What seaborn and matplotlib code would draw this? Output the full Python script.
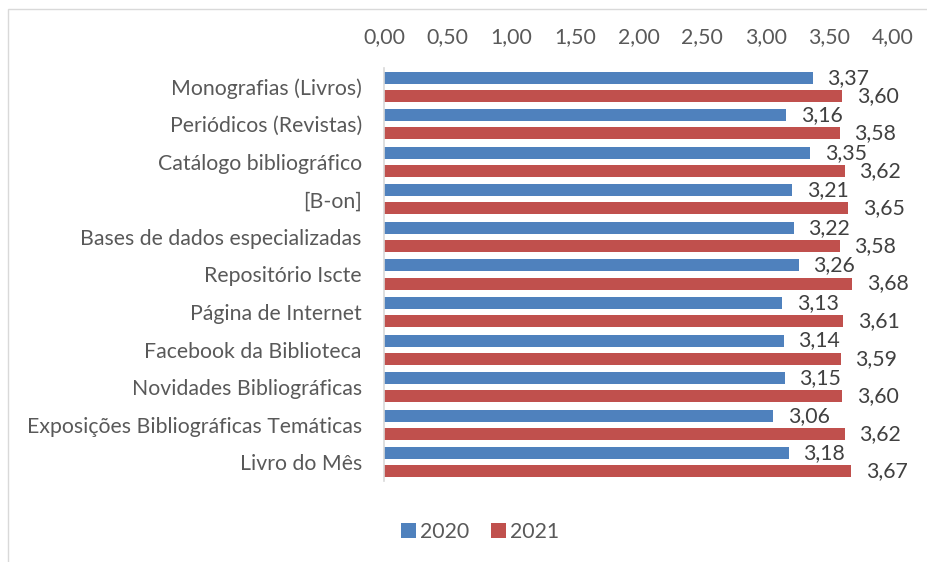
import matplotlib
matplotlib.use("Agg")
import matplotlib.pyplot as plt
import seaborn as sns
import pandas as pd
from matplotlib.patches import Rectangle, Patch

categories = [
    "Monografias (Livros)",
    "Periódicos (Revistas)",
    "Catálogo bibliográfico",
    "[B-on]",
    "Bases de dados especializadas",
    "Repositório Iscte",
    "Página de Internet",
    "Facebook da Biblioteca",
    "Novidades Bibliográficas",
    "Exposições Bibliográficas Temáticas",
    "Livro do Mês",
]
values_2020 = [3.37, 3.16, 3.35, 3.21, 3.22, 3.26, 3.13, 3.14, 3.15, 3.06, 3.18]
values_2021 = [3.60, 3.58, 3.62, 3.65, 3.58, 3.68, 3.61, 3.59, 3.60, 3.62, 3.67]
series_names = ["2020", "2021"]
x_ticks = [0, 0.5, 1.0, 1.5, 2.0, 2.5, 3.0, 3.5, 4.0]

colors = ["#4F81BD", "#C0504D"]
text_gray = "#595959"
label_gray = "#404040"
fs = 15.3

df = pd.DataFrame({
    "Categoria": categories * 2,
    "Valor": values_2020 + values_2021,
    "Ano": [series_names[0]] * len(categories) + [series_names[1]] * len(categories),
})

sns.set_theme(style="white")
plt.rcParams["font.family"] = ["Lato", "DejaVu Sans"]

fig = plt.figure(figsize=(9.28, 5.62), dpi=100)
ax = fig.add_axes([384 / 928, 1 - 481 / 562, (893 - 384) / 928, (481 - 68) / 562])

sns.barplot(data=df, y="Categoria", x="Valor", hue="Ano", order=categories,
            hue_order=series_names, palette=colors, orient="h", width=0.96,
            ax=ax, legend=False, saturation=1)

bar_h = 0.32
for ci, cont in enumerate(ax.containers):
    vals = values_2020 if ci == 0 else values_2021
    for patch, v in zip(cont.patches, vals):
        yc = patch.get_y() + patch.get_height() / 2
        patch.set_y(yc - bar_h / 2)
        patch.set_height(bar_h)
        patch.set_edgecolor("none")
        ax.annotate(f"{v:.2f}".replace(".", ","), xy=(v, yc), xytext=(10.5, 0),
                    textcoords="offset points", ha="left", va="center",
                    fontsize=fs, color=label_gray)

ax.set_xlim(0, 4.0)
ax.set_ylim(len(categories) - 0.5, -0.5)
ax.set_xticks(x_ticks)
ax.set_xticklabels([f"{t:.2f}".replace(".", ",") for t in x_ticks])
ax.xaxis.tick_top()
ax.tick_params(axis="x", length=0, pad=15, labelsize=fs, colors=text_gray)
ax.tick_params(axis="y", length=0, pad=16, labelsize=fs, colors=text_gray)
ax.set_xlabel("")
ax.set_ylabel("")
for s in ["top", "right", "bottom"]:
    ax.spines[s].set_visible(False)
ax.spines["left"].set_color("#d9d9d9")
ax.spines["left"].set_linewidth(1.2)
ax.grid(False)

# chart border
fig.patches.append(Rectangle((8 / 928, -0.1), 1.2, 1.1 - 9 / 562, transform=fig.transFigure,
                             fill=False, edgecolor="#d9d9d9", linewidth=1.0))

handles = [Patch(facecolor=c, edgecolor="none", label=n) for c, n in zip(colors, series_names)]
leg = fig.legend(handles=handles, loc="center", bbox_to_anchor=(480 / 928, 1 - 532 / 562),
                 ncol=2, frameon=False, handlelength=0.72, handleheight=0.72,
                 handletextpad=0.2, columnspacing=1.0, fontsize=fs)
for t in leg.get_texts():
    t.set_color(text_gray)

fig.savefig("out.png", dpi=100)
